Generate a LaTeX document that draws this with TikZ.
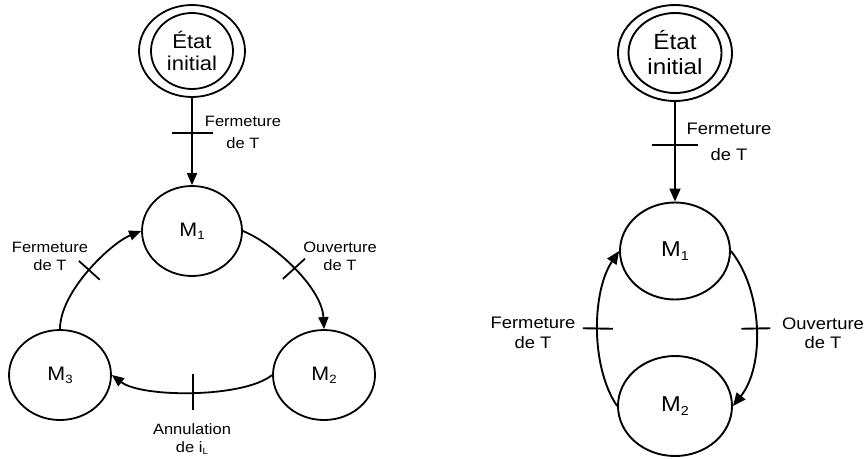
\documentclass[tikz,border=0pt]{standalone}
\usepackage{fontspec}
\setmainfont{Liberation Sans}[FakeStretch=1.1]
\usetikzlibrary{shapes.geometric,arrows.meta}
\newcommand{\lowsub}[3]{\raisebox{-#1pt}{\fontsize{#2}{#2}\selectfont #3}}
\begin{document}
\begin{tikzpicture}[x=1pt,y=-1pt,
  every node/.style={inner sep=0pt},
  stL/.style={draw, ellipse, line width=1.8pt},
  stR/.style={draw, ellipse, line width=1.9pt},
  arrL/.style={line width=1.8pt, -{Triangle[length=12pt,width=10pt]}},
  arrR/.style={line width=1.9pt, -{Triangle[length=13pt,width=11pt]}},
  tk/.style={sloped, pos=0.5, inner sep=0pt},
  lblL/.style={align=center, font=\fontsize{15}{18}\selectfont},
  lblR/.style={align=center, font=\fontsize{16.7}{19.5}\selectfont}]
\useasboundingbox (0,0) rectangle (866,458);

% ---------- left diagram ----------
\node[stL, minimum width=106pt, minimum height=92pt] (i1) at (192,51) {};
\node[stL, minimum width=82pt, minimum height=76pt, align=center,
      font=\fontsize{20}{22}\selectfont] (i1in) at (192,51) {État\\initial};
\node[stL, minimum width=100pt, minimum height=90pt, font=\fontsize{19.5}{22}\selectfont]
  (m1) at (192,231) {M\lowsub{3}{12}{1}};
\node[stL, minimum width=102pt, minimum height=90pt, font=\fontsize{19.5}{22}\selectfont]
  (m2) at (324,375) {M\lowsub{3}{12}{2}};
\node[stL, minimum width=102pt, minimum height=90pt, font=\fontsize{19.5}{22}\selectfont]
  (m3) at (60,375) {M\lowsub{3}{12}{3}};

\draw[arrL] (i1.south) -- node[tk,pos=0.4]{\rule{1.8pt}{41pt}} (m1.north);
\draw[arrL] (m1.east) .. controls +(30,12) and +(-2,-42) .. node[tk]{\rule{1.8pt}{30pt}} (m2.north);
\draw[arrL] (m2.west) .. controls +(-28,23) and +(30,23) .. node[tk]{\rule{1.8pt}{36pt}} (m3.east);
\draw[arrL] (m3.north) .. controls +(0,-38) and +(-30,12) .. node[tk]{\rule{1.8pt}{28pt}} (m1.west);

\node[lblL] (la) at (243,132) {Fermeture\\[4pt]de T};
\node[lblL] (lb) at (50,256) {Fermeture\\de T};
\node[lblL] (lc) at (340,256) {Ouverture\\de T};
\node[lblL] (ld) at (192,439) {Annulation\\de i\lowsub{2.5}{9}{L}};

% ---------- right diagram ----------
\node[stR, minimum width=114pt, minimum height=96pt] (j1) at (675,53) {};
\node[stR, minimum width=93pt, minimum height=80pt, align=center,
      font=\fontsize{22}{25}\selectfont] (j1in) at (675,53) {État\\initial};
\node[stR, minimum width=110pt, minimum height=97pt, font=\fontsize{21.5}{24}\selectfont]
  (n1) at (675,251) {M\lowsub{3.5}{13}{1}};
\node[stR, minimum width=114pt, minimum height=100pt, font=\fontsize{21.5}{24}\selectfont]
  (n2) at (675,406) {M\lowsub{3.5}{13}{2}};

\draw[arrR] (j1.south) -- node[tk,pos=0.43]{\rule{1.9pt}{46pt}} (n1.north);
\draw[arrR] (n2.west) .. controls +(-27,-40) and +(-27,40) .. node[tk]{\rule{1.9pt}{30pt}} (n1.west);
\draw[arrR] (n1.east) .. controls +(32,40) and +(32,-40) .. node[tk]{\rule{1.9pt}{29pt}} (n2.east);

\node[lblR] (ra) at (729,142) {Fermeture\\[6pt]de T};
\node[lblR] (rb) at (533,333) {Fermeture\\de T};
\node[lblR] (rc) at (823,333) {Ouverture\\de T};
\end{tikzpicture}
\end{document}
